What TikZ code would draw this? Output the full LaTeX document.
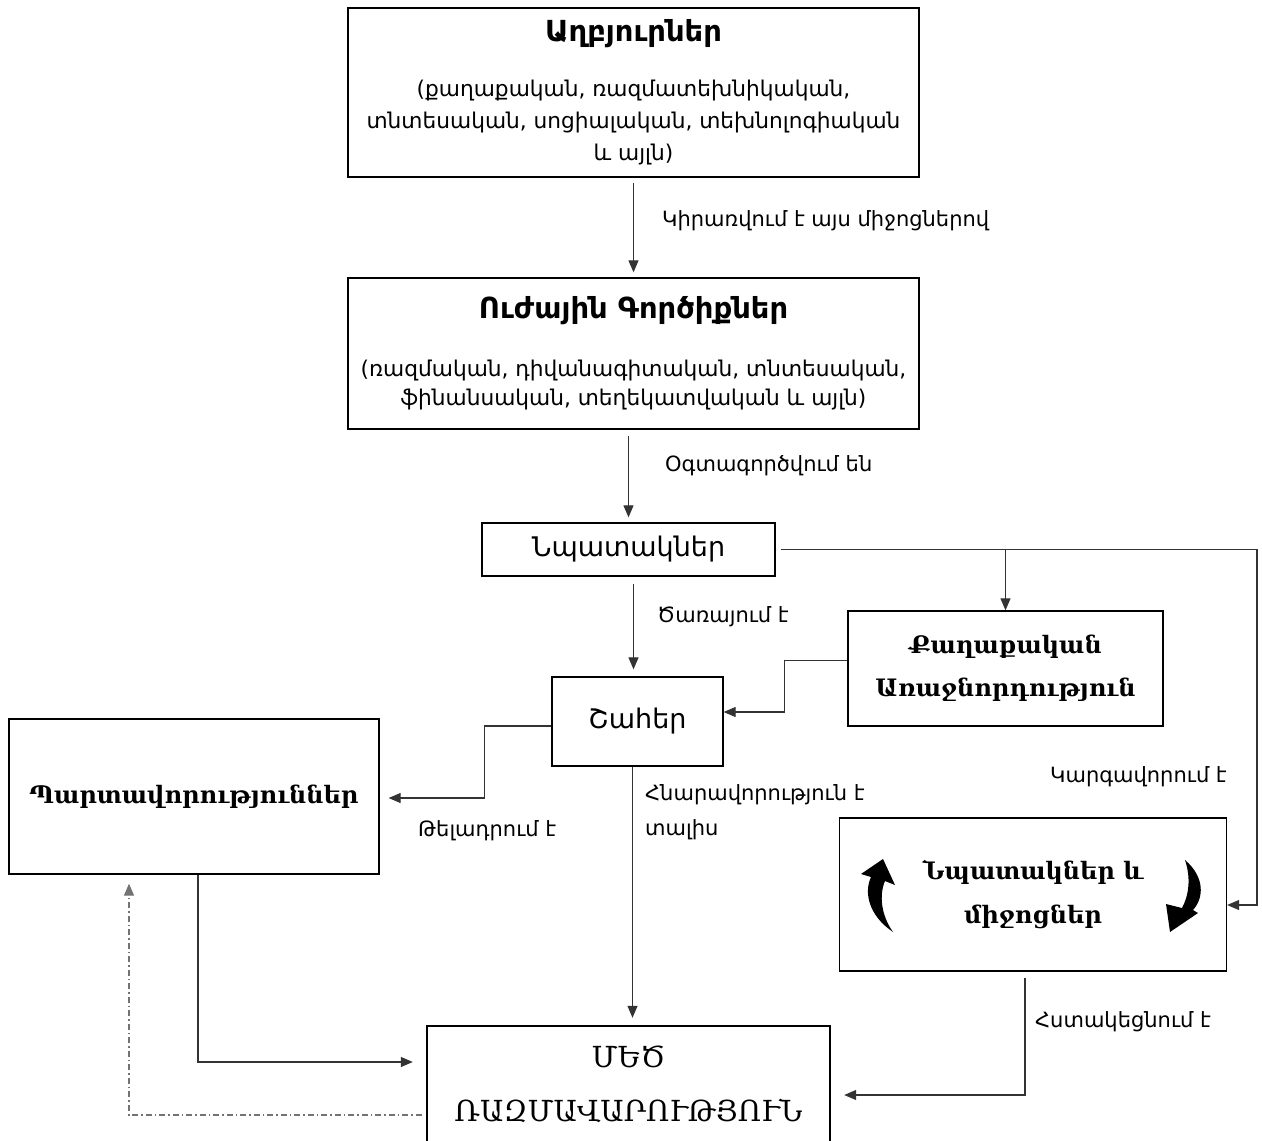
\documentclass[tikz,border=0pt]{standalone}
\usepackage{fontspec}
\usetikzlibrary{arrows.meta}
\newfontfamily\armsans{DejaVu Sans}
\newfontfamily\armserif{DejaVu Serif}

\begin{document}
\begin{tikzpicture}[x=1pt,y=-1pt,
		box/.style={draw=black,line width=1.3pt,align=center,inner sep=0pt},
		link/.style={draw=black!80,line width=1.1pt,-{Triangle[length=12pt,width=10pt]}},
		dashlink/.style={draw=black!55,line width=1.1pt,dash pattern=on 6pt off 3pt on 1.5pt off 3pt,-{Triangle[length=12pt,width=10pt]}},
		lbl/.style={anchor=west,inner sep=0pt,align=left,font=\armsans\fontsize{21}{35}\selectfont},
		ttl/.style={font=\armsans\fontsize{21.7}{32}\selectfont},
		mid/.style={font=\armsans\fontsize{27}{32}\selectfont},
		srf/.style={font=\armserif\bfseries\fontsize{24}{43}\selectfont}]
		\useasboundingbox (0,0) rectangle (1262,1141);

		\node[box,ttl,minimum width=571pt,minimum height=169pt]	(0)	at (633.5,92.5)
			{{\bfseries\fontsize{29}{30}\selectfont Աղբյուրներ}\\[23pt]
			(քաղաքական, ռազմատեխնիկական,\\
			տնտեսական, սոցիալական, տեխնոլոգիական\\
			և այլն)};
		\node[box,ttl,minimum width=571pt,minimum height=151pt,font=\armsans\fontsize{21.7}{29.5}\selectfont]	(1)	at (633.5,353.5)
			{{\bfseries\fontsize{29}{30}\selectfont Ուժային Գործիքներ}\\[28pt]
			(ռազմական, դիվանագիտական, տնտեսական,\\
			ֆինանսական, տեղեկատվական և այլն)};
		\node[box,mid,minimum width=293pt,minimum height=53pt]	(2)	at (628.5,549.5)	{Նպատակներ};
		\node[box,mid,minimum width=171pt,minimum height=89pt]	(3)	at (637.5,721.5)	{Շահեր};
		\node[box,srf,minimum width=315pt,minimum height=115pt]	(4)	at (1005.5,668.5)	{Քաղաքական\\Առաջնորդություն};
		\node[box,srf,minimum width=370pt,minimum height=155pt]	(5)	at (194,796.5)	{Պարտավորություններ};
		\node[box,srf,minimum width=387pt,minimum height=153pt,font=\armserif\bfseries\fontsize{24}{44}\selectfont]	(6)	at (1033,894.5)	{Նպատակներ և\\միջոցներ};
		\node[box,line width=2.4pt,minimum width=403pt,minimum height=117pt,font=\armserif\fontsize{29}{54}\selectfont]	(7)	at (628.5,1084.5)	{ՄԵԾ\\ՌԱԶՄԱՎԱՐՈՒԹՅՈՒՆ};

		% labels
		\node[lbl]	(l0)	at (662,221)	{Կիրառվում է այս միջոցներով};
		\node[lbl]	(l1)	at (665,466)	{Օգտագործվում են};
		\node[lbl]	(l2)	at (657,617)	{Ծառայում է};
		\node[lbl]	(l3)	at (1050,777)	{Կարգավորում է};
		\node[lbl]	(l4)	at (418,831)	{Թելադրում է};
		\node[lbl]	(l5)	at (645,812)	{Հնարավորություն է\\տալիս};
		\node[lbl]	(l6)	at (1035,1022)	{Հստակեցնում է};

		\draw[link,shorten <=5pt,shorten >=5pt] (0.south -| 1.north) -- (1.north);
		\draw[link,shorten <=6pt,shorten >=5pt] (1.south -| 2.north) -- (2.north);
		\draw[link,shorten <=7pt,shorten >=7pt] ([xshift=5pt]2.south) -- ([xshift=-4pt]3.north);
		\draw[link,shorten >=7pt] ([xshift=-5pt]3.south) -- ([xshift=4pt]7.north);
		\draw[link,shorten <=5pt] (2.east) -- (1257,549.5) |- ([yshift=-10.5pt]6.east);
		\draw[link] (2.east -| 4.north) -- (4.north);
		\draw[link] ([yshift=8pt]4.west) -- ++(-63,0) |- ([yshift=9.5pt]3.east);
		\draw[link,shorten >=9pt] ([yshift=-4.5pt]3.west) -- ++(-67,0) |- ([yshift=-1.5pt]5.east);
		\draw[link,shorten >=13pt] ([xshift=4pt]5.south) |- ([yshift=22.5pt]7.west);
		\draw[link,shorten <=6pt,shorten >=13pt] ([xshift=-8pt]6.south) |- ([yshift=-10.5pt]7.east);
		\draw[dashlink,shorten <=4pt,shorten >=9pt] ([yshift=-30.5pt]7.west) -| ([xshift=-65pt]5.south);

		% curved arrows inside the goals box
		\fill (893,932) .. controls (868,915) and (864,892) .. (871,877)
			-- (861,874) -- (883,859) -- (895,885) -- (885,881)
			.. controls (879,895) and (881,915) .. (893,932) -- cycle;
		\fill (1185,860) .. controls (1205,877) and (1204,898) .. (1193,910)
			-- (1198,913) -- (1170,932) -- (1166,904) -- (1182,908)
			.. controls (1189,895) and (1191,878) .. (1185,860) -- cycle;
	\end{tikzpicture}
\end{document}
